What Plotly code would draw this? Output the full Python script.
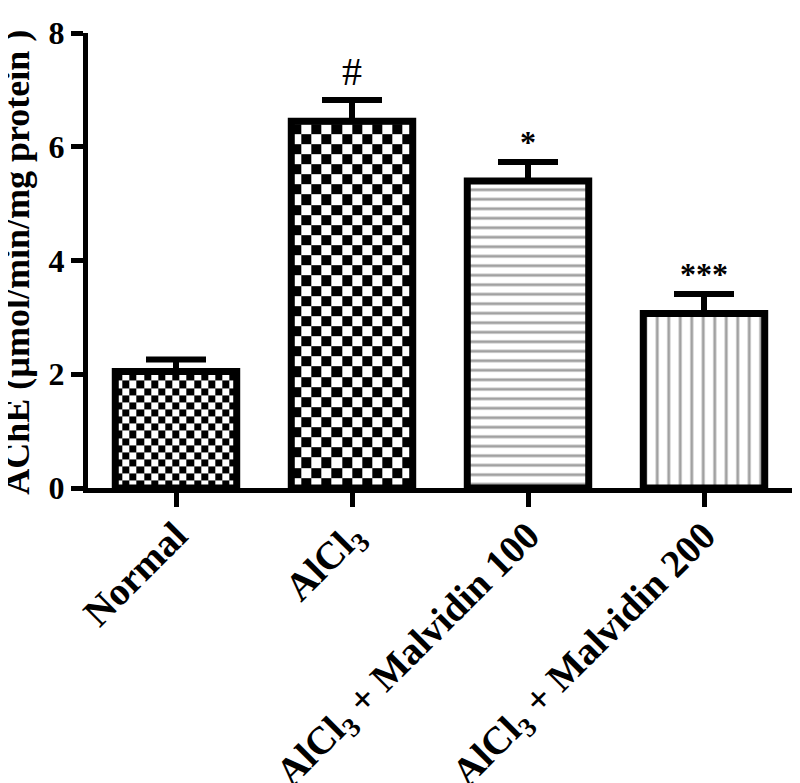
import numpy as np
import plotly.graph_objects as go

categories = ["Normal", "AlCl<sub>3</sub>", "AlCl<sub>3</sub> + Malvidin 100", "AlCl<sub>3</sub> + Malvidin 200"]
means = [2.05, 6.45, 5.40, 3.07]
sems = [0.21, 0.37, 0.33, 0.34]
signif = ["", "#", "*", "***"]
y_ticks = [0, 2, 4, 6, 8]

BAR_W = 0.69
x_pos = list(range(len(categories)))

fig = go.Figure()

# checkerboard fills (drawn from the bar values) for the first two groups
checker_cells = {0: 17, 1: 12}
for i, n in checker_cells.items():
    cw = BAR_W / n
    ch = cw * (176 / 56.9)  # square cells in pixel space
    xe = np.linspace(x_pos[i] - BAR_W / 2, x_pos[i] + BAR_W / 2, n + 1)
    ye = list(np.arange(0, means[i], ch))
    if ye[-1] < means[i]:
        ye.append(means[i])
    ye = np.array(ye)
    z = np.array([[(r + c) % 2 for c in range(n)] for r in range(len(ye) - 1)])
    fig.add_trace(go.Heatmap(x=xe, y=ye, z=z, zmin=0, zmax=1,
                             colorscale=[[0, "white"], [1, "black"]],
                             showscale=False, hoverinfo="skip", zsmooth=False))

fig.add_trace(go.Bar(
    x=x_pos, y=means, width=BAR_W,
    marker=dict(
        color=["rgba(0,0,0,0)", "rgba(0,0,0,0)", "white", "white"],
        line=dict(color="black", width=7),
        pattern=dict(shape=["", "", "-", "|"], size=[10, 10, 9.5, 11.5],
                     solidity=[0.2, 0.2, 0.3, 0.25], fgcolor="black"),
    ),
    error_y=dict(type="data", symmetric=False, array=sems, arrayminus=[0] * 4,
                 color="black", thickness=6, width=30),
    showlegend=False,
))

for i, s in enumerate(signif):
    if not s:
        continue
    fig.add_annotation(x=x_pos[i], y=means[i] + sems[i], text=s, showarrow=False,
                       yanchor="bottom", yshift=4 if s == "#" else 0,
                       font=dict(family="Liberation Serif", size=40 if s == "#" else 32,
                                 color="black", weight="normal" if s == "#" else "bold"))

fig.add_annotation(xref="paper", yref="paper", x=-71 / 704, y=0.495,
                   text="AChE (µmol/min/mg protein )", textangle=-90, showarrow=False,
                   xanchor="center", yanchor="middle",
                   font=dict(family="Liberation Serif", size=36, color="black",
                             weight="bold"))

# page body has an 8px margin, so the figure is offset by 8px right/down
fig.update_layout(
    width=792, height=775,
    margin=dict(l=80, r=8, t=25, b=295, autoexpand=False),
    plot_bgcolor="white", paper_bgcolor="white",
    font=dict(family="Liberation Serif", color="black"),
    xaxis=dict(range=[-0.5, 3.5], tickvals=x_pos, ticktext=categories,
               tickangle=-45, showline=True, linecolor="black", linewidth=5,
               ticks="outside", ticklen=14, tickwidth=5, tickcolor="black",
               showgrid=False, zeroline=False, ticklabelstandoff=-10, automargin=False,
               tickfont=dict(family="Liberation Serif", size=39, color="black",
                             weight="bold")),
    yaxis=dict(range=[0, 8], tickvals=y_ticks, showline=True, linecolor="black",
               linewidth=5, ticks="outside", ticklen=12, tickwidth=5,
               tickcolor="black", showgrid=False, zeroline=False, automargin=False,
               tickfont=dict(family="Liberation Serif", size=32, color="black",
                             weight="bold")),
)

fig.write_html("out.html")
